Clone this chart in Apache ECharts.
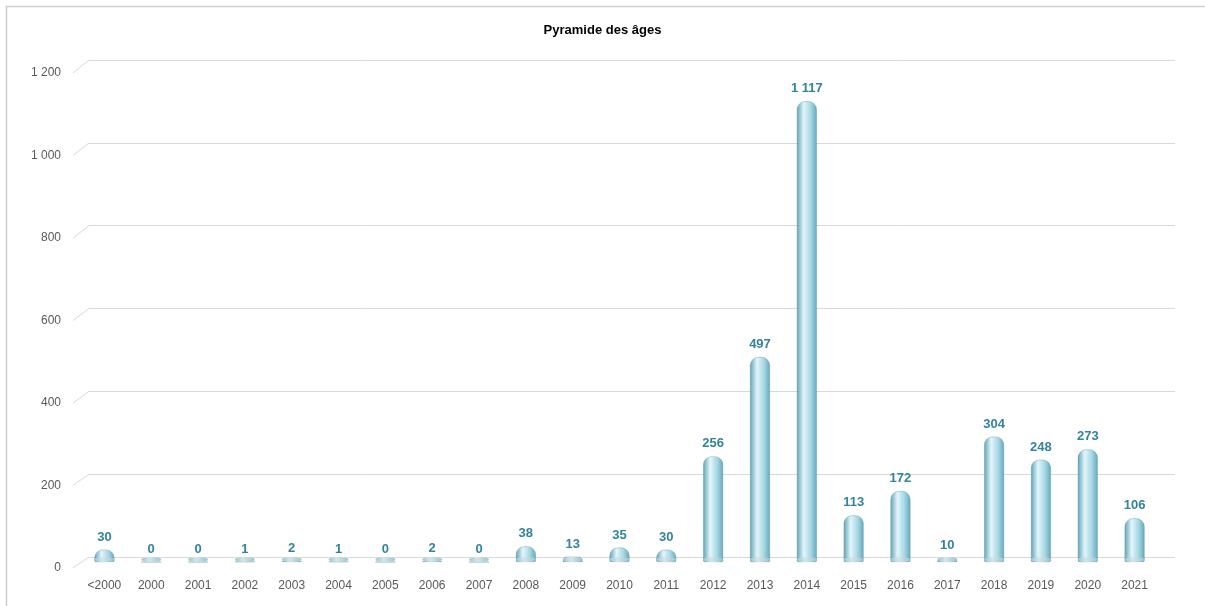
<!DOCTYPE html>
<html><head><meta charset="utf-8">
<script src="https://cdn.jsdelivr.net/npm/echarts@6/dist/echarts.min.js"></script>
<style>html,body{margin:0;padding:0;background:#fff}#c{width:1205px;height:606px}</style>
</head><body><div id="c"></div>
<script>
const categories = ['<2000','2000','2001','2002','2003','2004','2005','2006','2007','2008','2009','2010','2011','2012','2013','2014','2015','2016','2017','2018','2019','2020','2021'];
const values = [30,0,0,1,2,1,0,2,0,38,13,35,30,256,497,1117,113,172,10,304,248,273,106];
const yTicks = [0,200,400,600,800,1000,1200];
const yMin = 0, yMax = 1200, yStep = 200;

function fmt(v){return String(v).replace(/\B(?=(\d{3})+(?!\d))/g,' ');}

const grad = new echarts.graphic.LinearGradient(0,0,1,0,[
  {offset:0,color:'#5fa3b5'},
  {offset:0.35,color:'#e3f5fa'},
  {offset:0.7,color:'#a6d7e4'},
  {offset:1,color:'#64a9bb'}
]);
const capGrad = new echarts.graphic.LinearGradient(0,0,1,0,[
  {offset:0,color:'#9fc3cd'},
  {offset:0.4,color:'#d2e7ec'},
  {offset:1,color:'#9fc3cd'}
]);
const font = 'Liberation Sans';
const yAx = (gi, showLabel, showSplit) => ({type:'value',gridIndex:gi,min:yMin,max:yMax,interval:yStep,
  axisLine:{show:false},axisTick:{show:false},
  splitLine:{show:showSplit,lineStyle:{color:'#d9d9d9'}},
  axisLabel:{show:showLabel,color:'#595959',fontFamily:font,fontSize:12,margin:12,formatter:fmt}});

const chart = echarts.init(document.getElementById('c'));
chart.setOption({
  animation:false,
  title:{text:'Pyramide des âges',left:'center',top:19,textStyle:{fontFamily:font,fontSize:13,fontWeight:'bold',color:'#000'}},
  grid:[
    {left:73,right:47,top:73,bottom:38},   // front plane (labels)
    {left:89,right:30,top:60,bottom:49},   // back wall (gridlines)
    {left:81,right:47,top:67,bottom:44}    // bars
  ],
  xAxis:[
    {type:'category',gridIndex:0,data:categories,show:false},
    {type:'category',gridIndex:1,data:categories,show:false},
    {type:'category',gridIndex:2,data:categories,axisLine:{show:false},axisTick:{show:false},
     axisLabel:{color:'#595959',fontFamily:font,fontSize:12,margin:18,interval:0}}
  ],
  yAxis:[yAx(0,true,false),yAx(1,false,true),Object.assign(yAx(2,false,false),{show:false})],
  series:[
    {type:'bar',xAxisIndex:2,yAxisIndex:2,data:values,barWidth:20,z:3,
     itemStyle:{color:grad,borderRadius:[8,8,1,1],borderColor:'rgba(80,140,160,0.6)',borderWidth:0.6},
     label:{show:true,position:'top',distance:6,color:'#31849b',fontWeight:'bold',fontFamily:font,fontSize:13,formatter:p=>fmt(p.value)}},
    {type:'pictorialBar',xAxisIndex:2,yAxisIndex:2,data:values,symbol:'circle',symbolSize:[20,5],symbolPosition:'start',z:4,
     itemStyle:{color:capGrad},silent:true}
  ]
});

// diagonal connectors between front plane and back wall, computed from the axes
const gfx = [{type:'rect',shape:{x:6.5,y:6.5,width:1220,height:640},style:{fill:'none',stroke:'#cfcfcf',lineWidth:1.5},z:0}];
yTicks.forEach(t=>{
  const yf = chart.convertToPixel({yAxisIndex:0}, t);
  const yb = chart.convertToPixel({yAxisIndex:1}, t);
  gfx.push({type:'line',shape:{x1:73,y1:yf,x2:89,y2:yb},style:{stroke:'#d9d9d9',lineWidth:1},z:0});
});
chart.setOption({graphic:gfx});
</script></body></html>
